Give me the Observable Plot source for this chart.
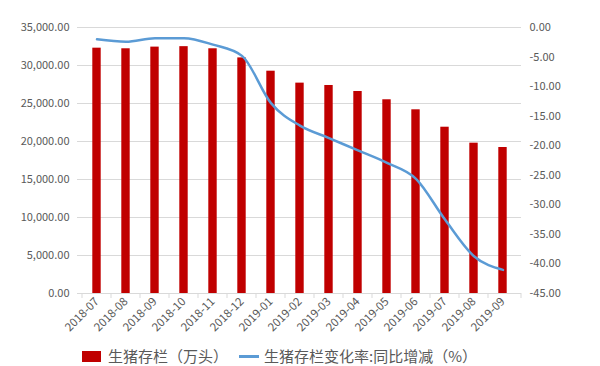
<!DOCTYPE html>
<html><head><meta charset="utf-8">
<script src="https://cdn.jsdelivr.net/npm/d3@7"></script>
<script src="https://cdn.jsdelivr.net/npm/@observablehq/plot@0.6"></script>
<style>
body{margin:0;background:#fff;font-family:"Noto Sans CJK SC",sans-serif;}
#chart{width:600px;height:366px;position:relative;}
#chart svg{position:absolute;left:0;top:0;}
.legend{position:absolute;left:82px;top:347px;height:18px;display:flex;align-items:center;font-size:15px;line-height:18px;color:#595959;white-space:nowrap;}
.sw-bar{width:19px;height:11px;background:#C00000;margin-right:7px;}
.sw-line{width:20px;height:3px;background:#5B9BD5;margin-left:11px;margin-right:5px;}
</style></head><body><div id="chart"></div>
<script>
const months = ["2018-07","2018-08","2018-09","2018-10","2018-11","2018-12","2019-01","2019-02","2019-03","2019-04","2019-05","2019-06","2019-07","2019-08","2019-09"];
const stock = [32280, 32200, 32420, 32480, 32200, 31000, 29250, 27680, 27370, 26580, 25490, 24170, 21880, 19780, 19210];
const yoy = [-2.0, -2.4, -1.8, -1.8, -2.9, -4.8, -12.8, -16.6, -18.7, -20.8, -22.9, -25.6, -32.5, -38.7, -41.0];
const leftTicks = [0, 5000, 10000, 15000, 20000, 25000, 30000, 35000];
const rightTicks = [0, -5, -10, -15, -20, -25, -30, -35, -40, -45];
const seriesNames = ["生猪存栏（万头）", "生猪存栏变化率:同比增减（%）"];

const data = months.map((m, i) => ({month: m, stock: stock[i], yoy: yoy[i]}));
const toLeft = v => (v + 45) / 45 * 35000;
const fromLeft = d => Math.round(d * 45 / 35000 - 45);

const boundaryTicks = (index, scales, values, dims) => {
  const x = scales.x;
  const xs = months.map(d => x(d));
  xs.push(dims.width - dims.marginRight);
  const y0 = dims.height - dims.marginBottom;
  const g = d3.create("svg:g").attr("stroke", "#d9d9d9");
  for (const px of xs) {
    g.append("line").attr("x1", px).attr("x2", px).attr("y1", y0).attr("y2", y0 + 5);
  }
  return g.node();
};

const plot = Plot.plot({
  width: 600,
  height: 340,
  marginTop: 27,
  marginBottom: 47,
  marginLeft: 77,
  marginRight: 79,
  style: {fontFamily: '"Noto Sans CJK SC", sans-serif', fontSize: "11px", color: "#595959", background: "transparent"},
  x: {type: "band", domain: months, padding: 0, label: null},
  y: {domain: [0, 35000], label: null},
  marks: [
    Plot.gridY(leftTicks.slice(1), {stroke: "#d9d9d9", strokeOpacity: 1}),
    Plot.barY(data, {x: "month", y: "stock", fill: "#C00000", insetLeft: 10.3, insetRight: 10.3}),
    Plot.ruleY([0], {stroke: "#d9d9d9"}),
    boundaryTicks,
    Plot.lineY(data, {x: "month", y: d => toLeft(d.yoy), stroke: "#5B9BD5", strokeWidth: 2.5, curve: "monotone-x"}),
    Plot.axisY(leftTicks, {anchor: "left", tickSize: 0, tickPadding: 8, tickFormat: d3.format(",.2f"), label: null}),
    Plot.axisY(rightTicks.map(toLeft), {anchor: "right", tickSize: 0, tickPadding: 8, tickFormat: d => fromLeft(d).toFixed(2), label: null}),
    Plot.axisX({tickSize: 0, tickPadding: 6, tickRotate: -45, fontSize: 11.5, label: null})
  ]
});
const chart = document.getElementById("chart");
chart.appendChild(plot);
const legend = document.createElement("div");
legend.className = "legend";
legend.innerHTML = `<div class="sw-bar"></div><span>${seriesNames[0]}</span><div class="sw-line"></div><span>${seriesNames[1]}</span>`;
chart.appendChild(legend);
</script></body></html>
